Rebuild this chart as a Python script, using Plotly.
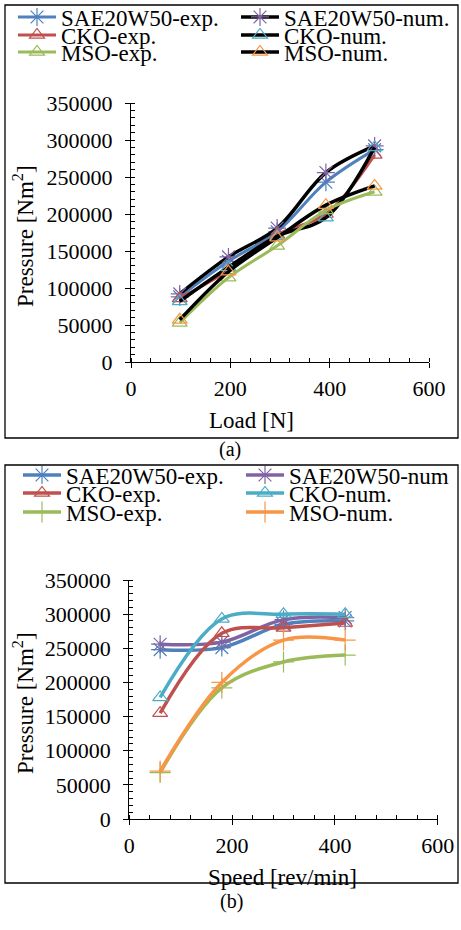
import plotly.graph_objects as go

# ---------------- data ----------------
load_n = [98.1, 196.2, 294.3, 392.4, 490.5]
a_sae_exp = [88000, 136000, 176000, 243000, 287000]
a_sae_num = [92000, 142000, 181000, 256000, 292000]
a_cko_exp = [86000, 124000, 172000, 200000, 280000]
a_cko_num = [82000, 128000, 170000, 195000, 290000]
a_mso_exp = [53000, 114000, 157000, 205000, 230000]
a_mso_num = [57000, 122000, 168000, 212000, 238000]

speed_rpm = [60, 180, 300, 420]
b_sae_exp = [248000, 251000, 285000, 290000]
b_sae_num = [256000, 259000, 292000, 295000]
b_cko_exp = [155000, 272000, 280000, 287000]
b_cko_num = [178000, 293000, 300000, 300000]
b_mso_exp = [68000, 192000, 230000, 240000]
b_mso_num = [70000, 200000, 262000, 262000]

names = ["SAE20W50-exp.", "SAE20W50-num.", "CKO-exp.", "CKO-num.", "MSO-exp.", "MSO-num."]
names_b = ["SAE20W50-exp.", "SAE20W50-num", "CKO-exp.", "CKO-num.", "MSO-exp.", "MSO-num."]

x_ticks = [0, 200, 400, 600]
y_ticks = [0, 50000, 100000, 150000, 200000, 250000, 300000, 350000]

BLUE, RED, GREEN, PURPLE, AQUA, ORANGE = "#4F81BD", "#C0504D", "#9BBB59", "#8064A2", "#4BACC6", "#F79646"
FONT = "Liberation Serif"
W, H = 461, 930

fig = go.Figure()

# legend entry positions (px): column x, row y
col_x = [13, 236]
rows_a = [17, 35, 52]
rows_b = [475, 493, 512]

def add(x, y, name, lc, lw, mc, sym, msize, xa, ya, leg):
    fig.add_trace(go.Scatter(
        x=x, y=y, name=name, mode="lines+markers",
        line=dict(color=lc, width=lw, shape="spline", smoothing=1),
        marker=dict(symbol=sym, size=msize, color=mc, line=dict(color=mc, width=1.2)),
        xaxis=xa, yaxis=ya, legend=leg))

a_series = [
    (a_sae_exp, BLUE, 3, BLUE, "asterisk-open", 15),
    (a_sae_num, "black", 3.5, PURPLE, "asterisk-open", 15),
    (a_cko_exp, RED, 3, RED, "triangle-up-open", 13),
    (a_cko_num, "black", 3.5, AQUA, "triangle-up-open", 13),
    (a_mso_exp, GREEN, 3, GREEN, "triangle-up-open", 13),
    (a_mso_num, "black", 3.5, ORANGE, "triangle-up-open", 13),
]
b_series = [
    (b_sae_exp, BLUE, 3.5, BLUE, "asterisk-open", 15),
    (b_sae_num, PURPLE, 3.5, PURPLE, "asterisk-open", 15),
    (b_cko_exp, RED, 3.5, RED, "triangle-up-open", 13),
    (b_cko_num, AQUA, 3.5, AQUA, "triangle-up-open", 13),
    (b_mso_exp, GREEN, 3.5, GREEN, "cross-thin-open", 15),
    (b_mso_num, ORANGE, 3.5, ORANGE, "cross-thin-open", 15),
]

legends = {}
for i, (y, lc, lw, mc, sym, ms) in enumerate(a_series):
    key = "legend" if i == 0 else f"legend{i+1}"
    add(load_n, y, names[i], lc, lw, mc, sym, ms, "x", "y", key)
    legends[key] = (col_x[i % 2], rows_a[i // 2])
for i, (y, lc, lw, mc, sym, ms) in enumerate(b_series):
    key = f"legend{i+7}"
    add(speed_rpm, y, names_b[i], lc, lw, mc, sym, ms, "x2", "y2", key)
    legends[key] = (col_x[i % 2] + 5, rows_b[i // 2])

def axis_x(dom, anchor):
    return dict(domain=dom, anchor=anchor, range=[0, 600], tickvals=x_ticks,
                showgrid=False, zeroline=False, showline=True, linecolor="black", linewidth=1.3,
                ticks="outside", ticklen=5, tickcolor="black", tickwidth=1.3,
                minor=dict(ticks="inside", ticklen=4, dtick=40, tickcolor="black", tickwidth=1),
                tickfont=dict(family=FONT, size=22, color="black"), ticklabelstandoff=1,
                automargin=False)

def axis_y(dom, anchor):
    return dict(domain=dom, anchor=anchor, range=[0, 350000], tickvals=y_ticks,
                tickformat="d", showgrid=False, zeroline=False, showline=True,
                linecolor="black", linewidth=1.3,
                ticks="outside", ticklen=5, tickcolor="black", tickwidth=1.3,
                minor=dict(ticks="inside", ticklen=4, dtick=10000, tickcolor="black", tickwidth=1),
                tickfont=dict(family=FONT, size=22, color="black"), ticklabelstandoff=8,
                automargin=False)

layout = dict(
    width=W, height=H, margin=dict(l=0, r=0, t=0, b=0, autoexpand=False),
    paper_bgcolor="white", plot_bgcolor="white",
    xaxis=axis_x([131 / W, 429 / W], "y"),
    yaxis=axis_y([(H - 362) / H, (H - 103) / H], "x"),
    xaxis2=axis_x([129.3 / W, 437.7 / W], "y2"),
    yaxis2=axis_y([(H - 819) / H, (H - 580) / H], "x2"),
    showlegend=True,
)
for key, (px, py) in legends.items():
    layout[key] = dict(x=px / W, y=(H - py) / H, xanchor="left", yanchor="middle",
                       xref="paper", yref="paper",
                       bgcolor="rgba(0,0,0,0)", borderwidth=0, itemwidth=38,
                       font=dict(family=FONT, size=23, color="black"), tracegroupgap=0)
fig.update_layout(**layout)

def ann(text, px, py, size=23, angle=0):
    fig.add_annotation(text=text, x=px / W, y=(H - py) / H, xref="paper", yref="paper",
                       showarrow=False, textangle=angle, xanchor="center", yanchor="middle",
                       font=dict(family=FONT, size=size, color="black"))

ann("Load [N]", 252, 420)
ann("Pressure [Nm<sup>2</sup>]", 23, 236, angle=-90)
ann("Speed [rev/min]", 282, 877)
ann("Pressure [Nm<sup>2</sup>]", 23, 703, angle=-90)
ann("(a)", 230, 449, size=20)
ann("(b)", 231, 901, size=20)

for y0, y1 in [(5, 438), (465, 883)]:
    fig.add_shape(type="rect", xref="paper", yref="paper",
                  x0=5 / W, x1=458 / W, y0=(H - y1) / H, y1=(H - y0) / H,
                  line=dict(color="black", width=1.3))

fig.write_html("out.html", config={"displayModeBar": False},
               post_script="document.body.style.margin='0';document.body.style.overflow='hidden';")
